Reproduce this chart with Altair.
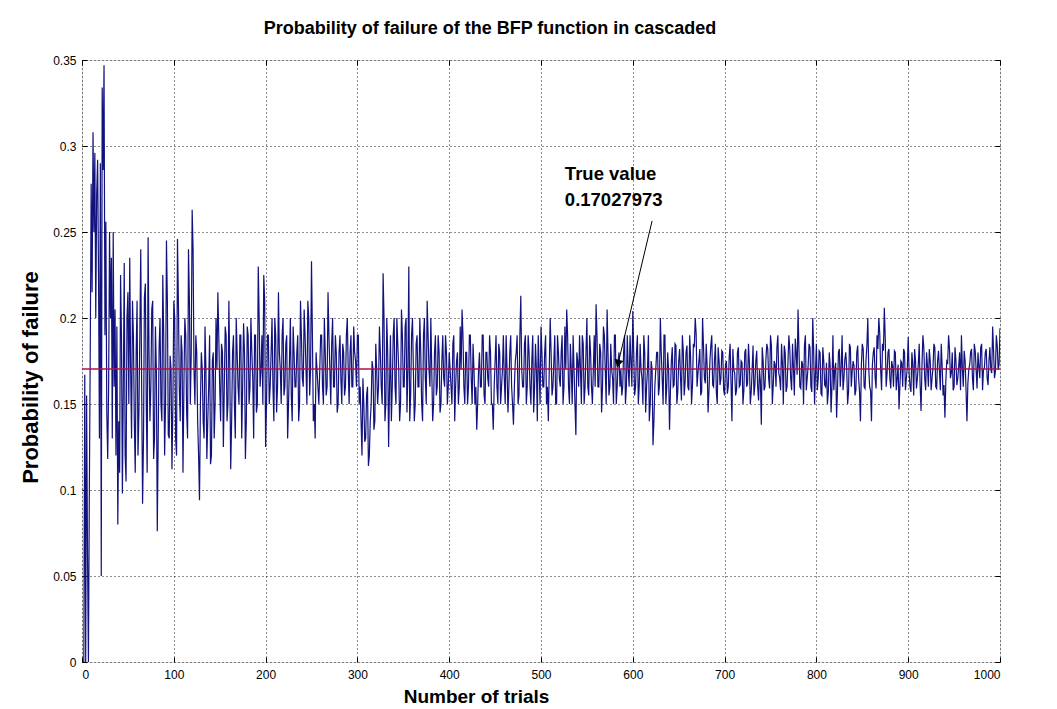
import altair as alt
import pandas as pd

TITLE = "Probability of failure of the BFP function in cascaded"
X_TITLE = "Number of trials"
Y_TITLE = "Probability of failure"
TRUE_VALUE = 0.17027973
NOTE_LINES = ["True value", "0.17027973"]

x_ticks = [0, 100, 200, 300, 400, 500, 600, 700, 800, 900, 1000]
y_ticks = [0, 0.05, 0.1, 0.15, 0.2, 0.25, 0.3, 0.35]

# trials 1..40
values_early = [
    0.0, 0.0, 0.167, 0.0, 0.155, 0.063, 0.0, 0.1, 0.182, 0.278,
    0.215, 0.308, 0.25, 0.296, 0.2, 0.272, 0.292, 0.225, 0.13, 0.29,
    0.05, 0.334, 0.286, 0.347, 0.19, 0.256, 0.145, 0.118, 0.16, 0.25,
    0.2, 0.235, 0.13, 0.25, 0.16, 0.205, 0.12, 0.195, 0.08, 0.14,
]

# odd trials 41, 43, ..., 999
values_odd = [
    0.11, 0.19, 0.16, 0.12, 0.2, 0.15, 0.17, 0.21, 0.14, 0.18,
    0.12, 0.19, 0.16, 0.13, 0.22, 0.11, 0.18, 0.16, 0.21, 0.13,
    0.17, 0.13, 0.2, 0.14, 0.19, 0.15, 0.21, 0.13, 0.17, 0.15,
    0.2, 0.12, 0.21, 0.14, 0.18, 0.16, 0.19, 0.13, 0.21, 0.18,
    0.24, 0.15, 0.18, 0.12, 0.15, 0.17, 0.13, 0.17, 0.14, 0.19,
    0.12, 0.18, 0.15, 0.17, 0.19, 0.14, 0.18, 0.16, 0.19, 0.15,
    0.17, 0.14, 0.19, 0.13, 0.18, 0.15, 0.19, 0.16, 0.18, 0.14,
    0.19, 0.16, 0.18, 0.13, 0.19, 0.15, 0.2, 0.17, 0.15, 0.21,
    0.15, 0.19, 0.16, 0.2, 0.14, 0.19, 0.16, 0.18, 0.15, 0.2,
    0.16, 0.19, 0.15, 0.2, 0.14, 0.18, 0.16, 0.19, 0.15, 0.19,
    0.16, 0.19, 0.15, 0.2, 0.17, 0.19, 0.15, 0.18, 0.16, 0.17,
    0.19, 0.15, 0.18, 0.16, 0.19, 0.15, 0.2, 0.16, 0.18, 0.15,
    0.19, 0.15, 0.18, 0.16, 0.2, 0.15, 0.19, 0.16, 0.18, 0.16,
    0.19, 0.16, 0.12, 0.15, 0.13, 0.16, 0.12, 0.15, 0.17, 0.14,
    0.17, 0.16, 0.18, 0.15, 0.2, 0.15, 0.18, 0.16, 0.14, 0.19,
    0.16, 0.2, 0.17, 0.15, 0.19, 0.16, 0.2, 0.17, 0.14, 0.19,
    0.17, 0.15, 0.19, 0.16, 0.18, 0.14, 0.2, 0.15, 0.19, 0.16,
    0.17, 0.15, 0.19, 0.16, 0.18, 0.15, 0.19, 0.16, 0.18, 0.16,
    0.17, 0.15, 0.19, 0.16, 0.18, 0.16, 0.17, 0.19, 0.15, 0.18,
    0.16, 0.19, 0.15, 0.17, 0.16, 0.15, 0.18, 0.16, 0.19, 0.15,
    0.18, 0.16, 0.18, 0.15, 0.16, 0.19, 0.15, 0.18, 0.16, 0.19,
    0.15, 0.17, 0.16, 0.19, 0.15, 0.16, 0.18, 0.15, 0.19, 0.17,
    0.16, 0.19, 0.16, 0.18, 0.15, 0.19, 0.16, 0.17, 0.19, 0.15,
    0.18, 0.16, 0.19, 0.16, 0.17, 0.18, 0.16, 0.19, 0.15, 0.18,
    0.16, 0.19, 0.16, 0.17, 0.19, 0.15, 0.17, 0.19, 0.15, 0.18,
    0.16, 0.17, 0.19, 0.15, 0.18, 0.16, 0.19, 0.16, 0.17, 0.16,
    0.19, 0.16, 0.18, 0.16, 0.19, 0.15, 0.18, 0.16, 0.17, 0.15,
    0.19, 0.16, 0.18, 0.17, 0.16, 0.19, 0.16, 0.17, 0.19, 0.16,
    0.18, 0.16, 0.19, 0.16, 0.17, 0.15, 0.18, 0.16, 0.19, 0.15,
    0.17, 0.14, 0.17, 0.18, 0.16, 0.18, 0.15, 0.19, 0.16, 0.17,
    0.158, 0.183, 0.161, 0.184, 0.157, 0.182, 0.152, 0.181, 0.163, 0.184,
    0.158, 0.176, 0.161, 0.183, 0.191, 0.168, 0.182, 0.157, 0.184, 0.162,
    0.172, 0.158, 0.184, 0.161, 0.176, 0.157, 0.183, 0.161, 0.181, 0.158,
    0.173, 0.156, 0.177, 0.162, 0.182, 0.168, 0.158, 0.183, 0.161, 0.174,
    0.158, 0.182, 0.162, 0.174, 0.157, 0.184, 0.161, 0.181, 0.152, 0.163,
    0.183, 0.158, 0.176, 0.182, 0.159, 0.184, 0.161, 0.173, 0.183, 0.168,
    0.158, 0.173, 0.184, 0.157, 0.174, 0.182, 0.158, 0.171, 0.188, 0.167,
    0.182, 0.159, 0.173, 0.184, 0.158, 0.172, 0.183, 0.157, 0.182, 0.168,
    0.158, 0.181, 0.156, 0.183, 0.161, 0.174, 0.157, 0.172, 0.161, 0.158,
    0.174, 0.159, 0.182, 0.171, 0.158, 0.176, 0.171, 0.157, 0.183, 0.169,
    0.172, 0.158, 0.184, 0.157, 0.173, 0.182, 0.159, 0.184, 0.171, 0.158,
    0.173, 0.183, 0.159, 0.182, 0.191, 0.158, 0.181, 0.188, 0.168, 0.182,
    0.159, 0.172, 0.181, 0.158, 0.173, 0.161, 0.174, 0.182, 0.158, 0.171,
    0.168, 0.157, 0.173, 0.182, 0.159, 0.173, 0.161, 0.172, 0.183, 0.158,
    0.172, 0.182, 0.158, 0.171, 0.183, 0.159, 0.181, 0.158, 0.172, 0.161,
    0.163, 0.174, 0.182, 0.168, 0.158, 0.183, 0.161, 0.172, 0.158, 0.171,
    0.181, 0.158, 0.162, 0.173, 0.182, 0.158, 0.181, 0.159, 0.172, 0.183,
    0.158, 0.171, 0.182, 0.161, 0.183, 0.168, 0.181, 0.169, 0.184, 0.173,
]

# even trials 42, 44, ..., 1000
values_even = [
    0.225, 0.098, 0.232, 0.105, 0.215, 0.235, 0.13, 0.19, 0.11, 0.21,
    0.145, 0.24, 0.092, 0.212, 0.15, 0.247, 0.14, 0.205, 0.118, 0.195,
    0.076, 0.183, 0.15, 0.225, 0.12, 0.245, 0.132, 0.178, 0.112, 0.21,
    0.13, 0.246, 0.16, 0.19, 0.11, 0.2, 0.145, 0.24, 0.15, 0.263,
    0.17, 0.19, 0.14, 0.094, 0.18, 0.14, 0.195, 0.118, 0.16, 0.115,
    0.175, 0.13, 0.2, 0.215, 0.16, 0.185, 0.125, 0.195, 0.14, 0.21,
    0.112, 0.18, 0.15, 0.2, 0.16, 0.19, 0.13, 0.197, 0.118, 0.195,
    0.15, 0.2, 0.165, 0.19, 0.145, 0.23, 0.16, 0.19, 0.225, 0.125,
    0.19, 0.15, 0.18, 0.16, 0.2, 0.145, 0.215, 0.17, 0.19, 0.155,
    0.185, 0.13, 0.175, 0.155, 0.195, 0.16, 0.18, 0.14, 0.21, 0.165,
    0.205, 0.17, 0.21, 0.155, 0.233, 0.14, 0.13, 0.17, 0.15, 0.19,
    0.16, 0.2, 0.155, 0.215, 0.17, 0.185, 0.16, 0.19, 0.145, 0.18,
    0.165, 0.185, 0.155, 0.19, 0.17, 0.18, 0.16, 0.195, 0.175, 0.19,
    0.15, 0.14, 0.165, 0.128, 0.155, 0.114, 0.14, 0.175, 0.135, 0.185,
    0.15, 0.195, 0.16, 0.226, 0.14, 0.2, 0.125, 0.19, 0.16, 0.2,
    0.15, 0.185, 0.14, 0.205, 0.16, 0.195, 0.145, 0.23, 0.155, 0.2,
    0.14, 0.185, 0.16, 0.2, 0.15, 0.19, 0.165, 0.21, 0.17, 0.2,
    0.14, 0.18, 0.155, 0.19, 0.145, 0.175, 0.165, 0.19, 0.15, 0.18,
    0.16, 0.185, 0.14, 0.175, 0.15, 0.195, 0.205, 0.16, 0.18, 0.15,
    0.19, 0.165, 0.185, 0.15, 0.135, 0.17, 0.16, 0.19, 0.155, 0.18,
    0.165, 0.19, 0.15, 0.135, 0.175, 0.16, 0.185, 0.15, 0.17, 0.165,
    0.19, 0.145, 0.18, 0.16, 0.138, 0.175, 0.19, 0.155, 0.213, 0.16,
    0.185, 0.15, 0.19, 0.16, 0.175, 0.145, 0.185, 0.14, 0.17, 0.195,
    0.16, 0.18, 0.15, 0.14, 0.2, 0.155, 0.175, 0.15, 0.19, 0.165,
    0.18, 0.15, 0.195, 0.205, 0.16, 0.185, 0.15, 0.17, 0.132, 0.175,
    0.19, 0.15, 0.185, 0.16, 0.2, 0.155, 0.18, 0.15, 0.19, 0.208,
    0.16, 0.185, 0.145, 0.195, 0.17, 0.205, 0.155, 0.185, 0.165, 0.19,
    0.15, 0.175, 0.16, 0.155, 0.18, 0.15, 0.19, 0.16, 0.175, 0.204,
    0.155, 0.18, 0.15, 0.185, 0.165, 0.19, 0.145, 0.17, 0.14, 0.175,
    0.126, 0.16, 0.18, 0.155, 0.2, 0.165, 0.19, 0.15, 0.18, 0.135,
    0.175, 0.16, 0.185, 0.15, 0.175, 0.165, 0.19, 0.155, 0.18, 0.16,
    0.19, 0.15, 0.185, 0.2, 0.16, 0.175, 0.155, 0.2, 0.165, 0.185,
    0.145, 0.175, 0.19, 0.16, 0.185, 0.15, 0.175, 0.165, 0.18, 0.155,
    0.175, 0.16, 0.185, 0.14, 0.17, 0.155, 0.18, 0.16, 0.175, 0.15,
    0.18, 0.16, 0.185, 0.15, 0.17, 0.155, 0.175, 0.16, 0.17, 0.138,
    0.175, 0.16, 0.185, 0.165, 0.19, 0.15, 0.175, 0.16, 0.19, 0.165,
    0.185, 0.15, 0.18, 0.16, 0.19, 0.165, 0.185, 0.155, 0.18, 0.205,
    0.16, 0.175, 0.15, 0.19, 0.165, 0.185, 0.16, 0.2, 0.15, 0.185,
    0.165, 0.18, 0.155, 0.175, 0.16, 0.15, 0.18, 0.145, 0.19, 0.17,
    0.142, 0.18, 0.16, 0.19, 0.165, 0.18, 0.15, 0.185, 0.16, 0.175,
    0.155, 0.18, 0.165, 0.14, 0.185, 0.16, 0.175, 0.2, 0.16, 0.14,
    0.18, 0.165, 0.19, 0.2, 0.17, 0.185, 0.206, 0.16, 0.18, 0.165,
    0.175, 0.16, 0.18, 0.165, 0.147, 0.175, 0.16, 0.18, 0.165, 0.189,
    0.16, 0.18, 0.155, 0.175, 0.165, 0.185, 0.146, 0.19, 0.165, 0.18,
    0.16, 0.175, 0.165, 0.185, 0.16, 0.175, 0.17, 0.185, 0.155, 0.142,
    0.175, 0.19, 0.165, 0.18, 0.16, 0.175, 0.165, 0.18, 0.19, 0.16,
    0.175, 0.14, 0.17, 0.18, 0.165, 0.185, 0.17, 0.18, 0.165, 0.185,
    0.17, 0.18, 0.165, 0.175, 0.17, 0.195, 0.165, 0.19, 0.17, 0.194,
]

values = list(values_early)
for o, e in zip(values_odd, values_even):
    values += [o, e]
trials = list(range(1, len(values) + 1))

# annotation positions (data units)
note_x = [526, 526]
note_y = [0.2837, 0.2686]
arrow_start = (621, 0.2564)
arrow_end = (584, 0.1735)

FONT = "Liberation Sans"
W, H = 918, 602

df = pd.DataFrame({"trial": trials, "p": values})
xs = alt.Scale(domain=[0, 1000], nice=False, zero=False)
ys = alt.Scale(domain=[0, 0.35], nice=False, zero=False)

axis_common = dict(
    domain=False, ticks=True, tickSize=5, tickColor="black", tickWidth=1,
    offset=-5, labelFont=FONT, labelFontSize=12, labelColor="black",
    gridColor="black", gridDash=[1, 3], gridWidth=1, gridOpacity=0.9,
    titleFont=FONT, titleFontWeight="bold", titleColor="black",
)

x_axis = alt.Axis(values=x_ticks, format="d", title=X_TITLE, grid=True, labelPadding=7,
                  titleFontSize=19, titleAlign="center", titleBaseline="middle",
                  titleX=394, titleY=39, **axis_common)
y_axis = alt.Axis(values=y_ticks, format="~g", title=Y_TITLE, grid=True, labelPadding=6,
                  titleFontSize=22, titleAngle=-90, titleAlign="center", titleBaseline="middle",
                  titleX=-57, titleY=317, **axis_common)

line = alt.Chart(df).mark_line(color="#12127e", strokeWidth=1.2, clip=True).encode(
    x=alt.X("trial:Q", scale=xs, axis=x_axis),
    y=alt.Y("p:Q", scale=ys, axis=y_axis),
)

frame_axis = dict(domain=False, labels=False, ticks=True, tickSize=5, tickColor="black",
                  offset=-5, grid=False, title=None)
frame = alt.Chart(df).mark_point(opacity=0).encode(
    x=alt.X("trial:Q", scale=xs, axis=alt.Axis(orient="top", values=x_ticks, **frame_axis)),
    y=alt.Y("p:Q", scale=ys, axis=alt.Axis(orient="right", values=y_ticks, **frame_axis)),
)

true_rule = alt.Chart(pd.DataFrame({"v": [TRUE_VALUE]})).mark_rule(
    color="#b0124a", strokeWidth=1.5
).encode(y=alt.Y("v:Q", scale=ys, axis=None))

arrow_df = pd.DataFrame({"x": [arrow_start[0]], "y": [arrow_start[1]],
                         "x2": [arrow_end[0]], "y2": [arrow_end[1]]})
arrow_line = alt.Chart(arrow_df).mark_rule(color="black", strokeWidth=1).encode(
    x=alt.X("x:Q", scale=xs, axis=None), y=alt.Y("y:Q", scale=ys, axis=None),
    x2="x2:Q", y2="y2:Q",
)
head_df = pd.DataFrame({"x": [arrow_end[0]], "y": [arrow_end[1]]})
arrow_head = alt.Chart(head_df).mark_point(
    shape="triangle-up", filled=True, color="black", size=80, angle=194, opacity=1
).encode(x=alt.X("x:Q", scale=xs, axis=None), y=alt.Y("y:Q", scale=ys, axis=None))

note_df = pd.DataFrame({"x": note_x, "y": note_y, "t": NOTE_LINES})
note = alt.Chart(note_df).mark_text(
    align="left", baseline="middle", font=FONT, fontSize=18.5, fontWeight="bold", color="black"
).encode(x=alt.X("x:Q", scale=xs, axis=None), y=alt.Y("y:Q", scale=ys, axis=None), text="t:N")

chart = alt.layer(line, true_rule, arrow_line, arrow_head, note, frame).resolve_scale(
    x="independent", y="independent"
).resolve_axis(x="independent", y="independent").properties(
    width=W, height=H,
    title=alt.TitleParams(TITLE, font=FONT, fontSize=18, fontWeight="bold", color="black",
                          anchor="middle", dx=-51, offset=16),
    autosize=alt.AutoSizeParams(type="none"),
    padding={"left": 74, "top": 52, "right": 40, "bottom": 46},
).configure_view(stroke="black", strokeWidth=1.2).configure(background="white")

chart.save("out.html", embed_options={"renderer": "svg", "actions": False})
